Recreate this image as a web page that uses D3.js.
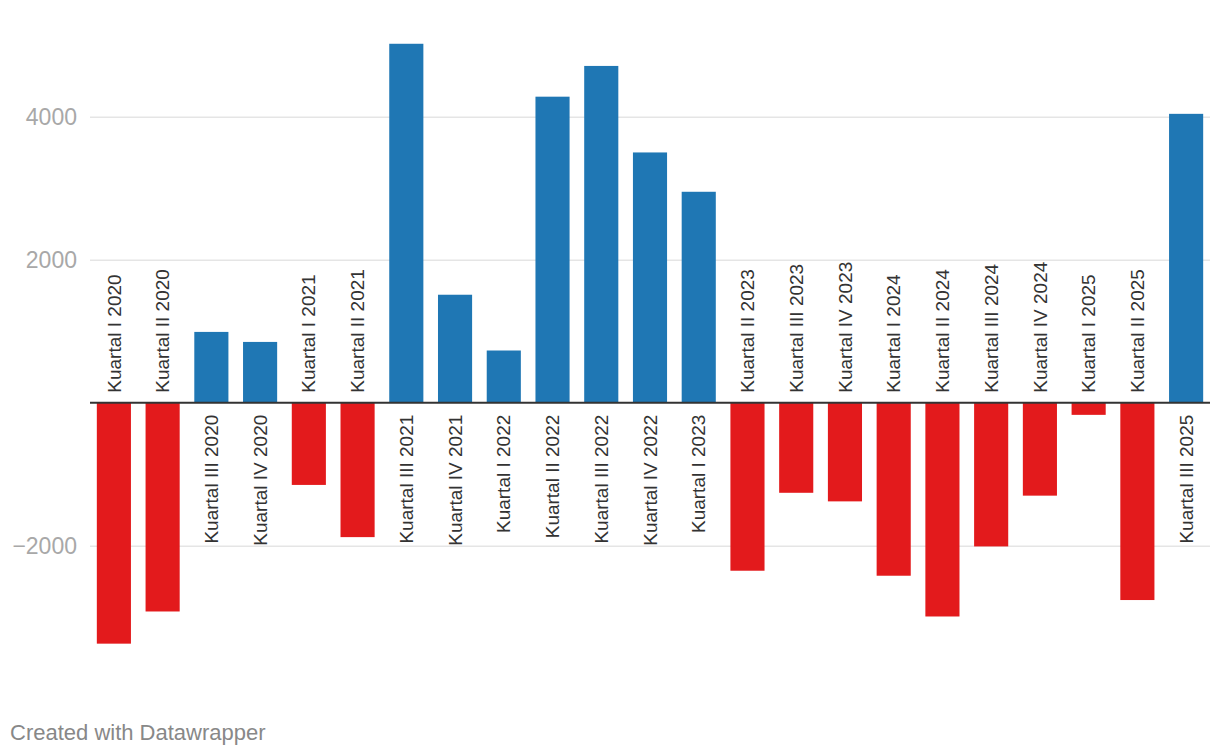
<!DOCTYPE html>
<html>
<head>
<meta charset="utf-8">
<script src="https://cdn.jsdelivr.net/npm/d3@7"></script>
<style>
  html, body { margin: 0; padding: 0; background: #fff; }
  svg { display: block; font-family: "Liberation Sans", Arial, Helvetica, sans-serif; }
</style>
</head>
<body>
<svg id="chart" width="1220" height="756"></svg>
<script>
// quarters and net values
const quarters = [
  "Kuartal I 2020", "Kuartal II 2020", "Kuartal III 2020", "Kuartal IV 2020",
  "Kuartal I 2021", "Kuartal II 2021", "Kuartal III 2021", "Kuartal IV 2021",
  "Kuartal I 2022", "Kuartal II 2022", "Kuartal III 2022", "Kuartal IV 2022",
  "Kuartal I 2023", "Kuartal II 2023", "Kuartal III 2023", "Kuartal IV 2023",
  "Kuartal I 2024", "Kuartal II 2024", "Kuartal III 2024", "Kuartal IV 2024",
  "Kuartal I 2025", "Kuartal II 2025", "Kuartal III 2025"
]
const values = [
  -3370, -2920, 990, 850,
  -1150, -1880, 5020, 1510,
  730, 4280, 4710, 3500,
  2950, -2350, -1260, -1380,
  -2420, -2990, -2010, -1300,
  -170, -2760, 4040
]
const yTicks = [-2000, 2000, 4000]

const data = quarters.map((q, i) => ({ label: q, value: values[i] }))

const svg = d3.select("#chart")
const left = 90, right = 1210

const x = d3.scaleBand()
  .domain(quarters)
  .range([left, right])
  .paddingInner(0.3)
  .paddingOuter(0.14)

const y = d3.scaleLinear()
  .domain([-2000, 4000])
  .range([545.7, 116.7])

// Grid + tick labels
const yAxis = d3.axisLeft(y)
  .tickValues(yTicks)
  .tickSize(-(right - left))
  .tickPadding(13)
  .tickFormat(d => d < 0 ? "\u2212" + Math.abs(d) : String(d))

const ga = svg.append("g")
  .attr("transform", `translate(${left},0)`)
  .call(yAxis)
ga.select(".domain").remove()
ga.selectAll(".tick line")
  .attr("stroke", "#e5e5e5")
  .attr("stroke-width", 1.5)
ga.selectAll(".tick text")
  .attr("fill", "#a8a8a8")
  .attr("font-size", "23px")
  .attr("font-family", "Liberation Sans, Arial, sans-serif")

// Bars
svg.append("g")
  .selectAll("rect")
  .data(data)
  .enter()
  .append("rect")
    .attr("x", d => x(d.label))
    .attr("width", x.bandwidth())
    .attr("y", d => Math.min(y(d.value), y(0)))
    .attr("height", d => Math.abs(y(d.value) - y(0)))
    .attr("fill", d => d.value >= 0 ? "#1f77b4" : "#e31a1c")

// Zero line
svg.append("line")
  .attr("x1", left)
  .attr("x2", right)
  .attr("y1", y(0))
  .attr("y2", y(0))
  .attr("stroke", "#333")
  .attr("stroke-width", 2)

// Bar labels, on the other side of the zero line
svg.append("g")
  .selectAll("text")
  .data(data)
  .enter()
  .append("text")
    .attr("transform", d => {
      const cx = x(d.label) + x.bandwidth() / 2
      const cy = d.value >= 0 ? y(0) + 12 : y(0) - 10
      return `translate(${cx},${cy}) rotate(-90)`
    })
    .attr("dy", "0.35em")
    .attr("text-anchor", d => d.value >= 0 ? "end" : "start")
    .attr("font-size", "19px")
    .attr("fill", "#333")
    .text(d => d.label)

// Footer
svg.append("text")
  .attr("x", 10)
  .attr("y", 740)
  .attr("font-size", "22px")
  .attr("fill", "#888")
  .text("Created with Datawrapper")
</script>
</body>
</html>
